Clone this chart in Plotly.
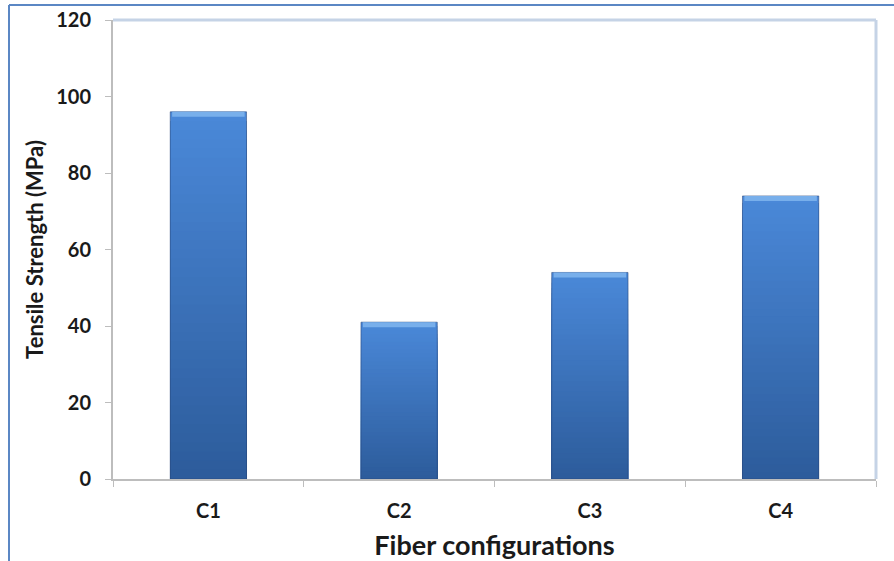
import plotly.graph_objects as go

categories = ["C1", "C2", "C3", "C4"]
tensile_strength = [96, 41, 54, 74]
y_ticks = [0, 20, 40, 60, 80, 100, 120]

W, H = 894, 561
L, R, T, B = 113, 18, 20, 82

N = 40
top_rgb = (74, 136, 216)
bot_rgb = (44, 91, 154)

def mix(t):
    return "rgb(%d,%d,%d)" % tuple(round(b + (a - b) * t) for a, b in zip(top_rgb, bot_rgb))

fig = go.Figure()
# vertical gradient: overlapping bars from the base, tallest (lightest) first
for i in range(N):
    frac = (N - i) / N
    fig.add_trace(go.Bar(
        x=categories,
        y=[v * frac for v in tensile_strength],
        marker=dict(color=mix(frac), line=dict(width=0)),
        width=0.4,
        hoverinfo="skip",
        showlegend=False,
    ))
# outline
fig.add_trace(go.Bar(
    x=categories, y=tensile_strength,
    marker=dict(color="rgba(0,0,0,0)", line=dict(color="rgba(40,70,120,0.55)", width=1)),
    width=0.4, showlegend=False, hoverinfo="skip",
))
# bevel highlight at the top
fig.add_trace(go.Bar(
    x=categories, y=[1.3] * len(categories),
    base=[v - 1.3 for v in tensile_strength],
    marker=dict(color="rgb(120,175,235)", line=dict(width=0)),
    width=0.38, showlegend=False, hoverinfo="skip",
))

font_family = "Lato, Carlito, Calibri, sans-serif"

fig.update_layout(
    width=W, height=H,
    margin=dict(l=L, r=R, t=T, b=B, autoexpand=False),
    paper_bgcolor="white", plot_bgcolor="white",
    barmode="overlay",
    font=dict(family=font_family, color="#1a1a1a"),
    xaxis=dict(
        type="category", automargin=False,
        showline=True, linecolor="#bdbdbd", linewidth=2,
        ticks="outside", tickson="boundaries", ticklen=6, tickcolor="#bdbdbd",
        tickfont=dict(size=20, family=font_family, weight="bold"),
        showgrid=False, zeroline=False,
        title=dict(text="<b>Fiber configurations</b>", font=dict(size=27), standoff=17),
        ticklabelstandoff=13,
    ),
    yaxis=dict(
        range=[0, 120], tickvals=y_ticks, automargin=False,
        showline=True, linecolor="#bdbdbd", linewidth=2,
        ticks="outside", ticklen=6, tickcolor="#bdbdbd",
        tickfont=dict(size=20, family=font_family, weight="bold"),
        showgrid=False, zeroline=False,
        title=dict(text="<b>Tensile Strength (MPa)</b>", font=dict(size=22), standoff=6),
        ticklabelstandoff=10,
    ),
    shapes=[
        # plot area border (top and right)
        dict(type="line", xref="paper", yref="paper", x0=0, x1=1, y0=1, y1=1,
             line=dict(color="#c5d3e6", width=3)),
        dict(type="line", xref="paper", yref="paper", x0=1, x1=1, y0=0, y1=1,
             line=dict(color="#c5d3e6", width=3)),
        # outer chart frame
        dict(type="line", xref="paper", yref="paper",
             x0=(9 - L) / (W - L - R), x1=(9 - L) / (W - L - R),
             y0=-(B + 5) / (H - T - B), y1=1 + 15 / (H - T - B),
             line=dict(color="#5b87c4", width=2)),
        dict(type="line", xref="paper", yref="paper",
             x0=(9 - L) / (W - L - R), x1=1 + (R + 5) / (W - L - R),
             y0=1 + 15 / (H - T - B), y1=1 + 15 / (H - T - B),
             line=dict(color="#5b87c4", width=2)),
    ],
)

fig.write_html("out.html", config={"displayModeBar": False},
               post_script="document.body.style.margin='0';")
